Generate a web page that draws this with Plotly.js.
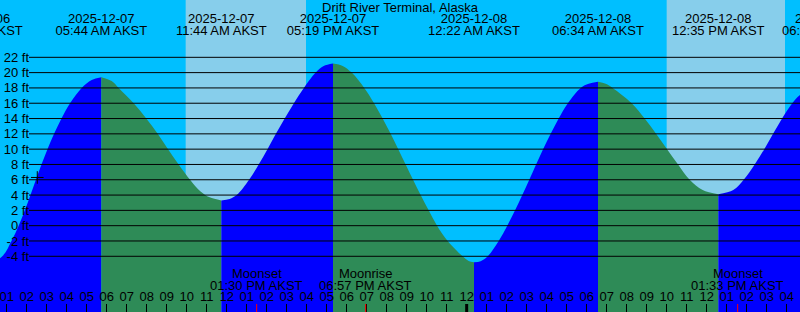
<!DOCTYPE html>
<html>
<head>
<meta charset="utf-8">
<script src="https://cdn.plot.ly/plotly-3.0.1.min.js"></script>
<style>html,body{margin:0;padding:0;background:#00BFFF;}#chart{width:800px;height:312px;}</style>
</head>
<body>
<div id="chart"></div>
<script>
// ---- Data (hours counted from 2025-12-07 00:00 AKST) ----
const stationName = 'Drift River Terminal, Alaska';

// Tide extremes (highs and lows)
const extremeHours = [-0.483, 5.733, 11.733, 17.317, 24.367, 30.567, 36.583, 42.083];
const extremeFeet  = [-5.9, 19.4, 3.3, 21.2, -4.78, 18.8, 4.1, 19.0];
const extremeDates = ['2025-12-06', '2025-12-07', '2025-12-07', '2025-12-07', '2025-12-08', '2025-12-08', '2025-12-08', '2025-12-08'];
const extremeTimes = ['11:31 PM AKST', '05:44 AM AKST', '11:44 AM AKST', '05:19 PM AKST', '12:22 AM AKST', '06:34 AM AKST', '12:35 PM AKST', '06:05 PM AKST'];

// Tide heights read between extremes
const tideHours = [
  0.78, 1.24, 1.60, 1.91, 2.19, 2.46, 2.74, 3.04, 3.37, 3.74, 4.17, 4.75, 5.25,
  6.25, 6.6, 7.35, 7.98, 8.55, 9.07, 9.6, 10.17, 10.68, 11.15,
  12.15, 12.5, 13.12, 13.6, 14.04, 14.46, 14.9, 15.36, 15.86, 16.45, 16.85,
  17.8, 18.25, 18.88, 19.37, 19.8, 20.2, 20.58, 20.95, 21.32, 21.7, 22.1, 22.52, 23.05, 23.8, 24.1,
  24.7, 25.05, 25.6, 26.03, 26.42, 26.78, 27.13, 27.47, 27.82, 28.2, 28.6, 29.06, 29.7, 30.1,
  30.95, 31.3, 32.25, 32.9, 33.47, 34.02, 34.57, 35.15, 35.8,
  37.33, 37.85, 38.4, 38.88, 39.32, 39.77, 40.28, 40.67
];
const tideFeet = [
  -4, -2, 0, 2, 4, 6, 8, 10, 12, 14, 16, 18, 19.05,
  18.9, 18, 16, 14, 12, 10, 8, 6, 4.5, 3.7,
  3.5, 4, 6, 8, 10, 12, 14, 16, 18, 20, 20.87,
  20.88, 20, 18, 16, 14, 12, 10, 8, 6, 4, 2, 0, -2, -4, -4.6,
  -4.65, -4, -2, 0, 2, 4, 6, 8, 10, 12, 14, 16, 18, 18.54,
  18.55, 18, 16, 14, 12, 10, 8, 6, 4.65,
  4.65, 6, 8, 10, 12, 14, 16, 17.08
];

// Current-time marker
const nowHours = [2.53];
const nowFeet = [6.3];

// Daylight periods
const sunrise = ['2025-12-07 09:57', '2025-12-08 10:00'];
const sunset  = ['2025-12-07 15:58', '2025-12-08 15:55'];

// Moon events
const moonEvents = ['Moonset', 'Moonrise', 'Moonset'];
const moonStamps = ['2025-12-07 13:30', '2025-12-07 18:57', '2025-12-08 13:33'];
const moonTimes  = ['01:30 PM AKST', '06:57 PM AKST', '01:33 PM AKST'];

// Axis ticks
const feetTicks = [-4, -2, 0, 2, 4, 6, 8, 10, 12, 14, 16, 18, 20, 22];
const feetTickText = feetTicks.map(v => v + ' ft');
const dayBoundaries = ['2025-12-08 00:00'];

// ---- Styling ----
const FONT = 'Liberation Sans, Arial, Helvetica, sans-serif';
const W = 800, H = 312;
const xRange = ['2025-12-07 00:40', '2025-12-08 16:40'];
const yRange = [-11.28, 29.49];
const RISE = '#0000FF', FALL = '#2E8B57';
const NIGHT = '#00BFFF', DAY = '#87CEEB';

function toDate(h) {
  const ms = Date.UTC(2025, 11, 7) + Math.round(h * 3600000);
  return new Date(ms).toISOString().replace('T', ' ').slice(0, 19);
}
function rowY(px) { return yRange[1] - px * (yRange[1] - yRange[0]) / H; }

const traces = [];
const base = yRange[0] - 5;
for (let i = 0; i < extremeHours.length - 1; i++) {
  const h0 = extremeHours[i], h1 = extremeHours[i + 1];
  const xs = [h0], ys = [extremeFeet[i]];
  tideHours.forEach((h, k) => { if (h > h0 && h < h1) { xs.push(h); ys.push(tideFeet[k]); } });
  xs.push(h1); ys.push(extremeFeet[i + 1]);
  const col = extremeFeet[i + 1] > extremeFeet[i] ? RISE : FALL;
  traces.push({
    x: [toDate(h0), toDate(h1)], y: [base, base], mode: 'lines',
    line: {width: 0}, hoverinfo: 'skip', showlegend: false
  });
  traces.push({
    x: xs.map(toDate), y: ys, mode: 'lines',
    line: {shape: 'spline', smoothing: 1, width: 0, color: col},
    fill: 'tonexty', fillcolor: col, hoverinfo: 'skip', showlegend: false
  });
}

// Now marker
traces.push({
  x: nowHours.map(toDate), y: nowFeet, mode: 'markers',
  marker: {symbol: 'cross-thin', size: 9, color: '#000', line: {width: 1, color: '#000'}},
  hoverinfo: 'skip', showlegend: false
});

// Extreme labels (two text rows)
const extX = extremeHours.map(toDate);
traces.push({
  x: extX, y: extX.map(() => rowY(19.3)), mode: 'text', text: extremeDates,
  textposition: 'middle center', textfont: {family: FONT, size: 13, color: '#000'},
  hoverinfo: 'skip', showlegend: false
});
traces.push({
  x: extX, y: extX.map(() => rowY(31.4)), mode: 'text', text: extremeTimes,
  textposition: 'middle center', textfont: {family: FONT, size: 13, color: '#000'},
  hoverinfo: 'skip', showlegend: false
});

const shapes = [];
sunrise.forEach((s, i) => shapes.push({
  type: 'rect', xref: 'x', yref: 'paper', x0: s, x1: sunset[i], y0: 0, y1: 1,
  fillcolor: DAY, line: {width: 0}, layer: 'below'
}));
feetTicks.forEach(v => shapes.push({
  type: 'line', xref: 'paper', yref: 'y', x0: 29 / W, x1: 1, y0: v, y1: v,
  line: {color: '#000', width: 1}, layer: 'above'
}));
moonStamps.forEach(s => shapes.push({
  type: 'line', xref: 'x', yref: 'paper', x0: s, x1: s, y0: 0, y1: 8 / H,
  line: {color: '#FF0000', width: 1}, layer: 'above'
}));
dayBoundaries.forEach(s => shapes.push({
  type: 'line', xref: 'x', yref: 'paper', x0: s, x1: s, y0: 0, y1: 8 / H,
  line: {color: '#000', width: 3}, layer: 'above'
}));

const annotations = [];
moonStamps.forEach((s, i) => {
  annotations.push({x: s, xref: 'x', y: 1 - 273.3 / H, yref: 'paper', text: moonEvents[i],
    showarrow: false, xanchor: 'center', yanchor: 'middle', font: {family: FONT, size: 13, color: '#000'}});
  annotations.push({x: s, xref: 'x', y: 1 - 285.6 / H, yref: 'paper', text: moonTimes[i],
    showarrow: false, xanchor: 'center', yanchor: 'middle', font: {family: FONT, size: 13, color: '#000'}});
});

const layout = {
  width: W, height: H,
  margin: {l: 0, r: 0, t: 0, b: 0, pad: 0},
  paper_bgcolor: NIGHT, plot_bgcolor: NIGHT,
  showlegend: false,
  font: {family: FONT, size: 13, color: '#000'},
  title: {text: stationName, x: 0.5, xanchor: 'center', xref: 'paper',
          y: 1 - 7.5 / H, yanchor: 'middle', yref: 'container',
          font: {family: FONT, size: 13, color: '#000'}},
  xaxis: {
    type: 'date', range: xRange, domain: [0, 1],
    showgrid: false, zeroline: false, showline: false,
    ticks: 'inside', ticklen: 8, tickwidth: 1, tickcolor: '#000',
    dtick: 3600000, tick0: '2025-12-07 00:00', tickformat: '%I',
    ticklabelposition: 'inside', ticklabeloverflow: 'allow',
    tickfont: {family: FONT, size: 13, color: '#000'}
  },
  yaxis: {
    range: yRange, anchor: 'free', position: 29 / W,
    tickmode: 'array', tickvals: feetTicks, ticktext: feetTickText,
    showgrid: false, zeroline: false, showline: false, ticks: '',
    tickfont: {family: FONT, size: 13, color: '#000'}
  },
  shapes: shapes,
  annotations: annotations
};

Plotly.newPlot('chart', traces, layout, {displayModeBar: false, staticPlot: true});
</script>
</body>
</html>
